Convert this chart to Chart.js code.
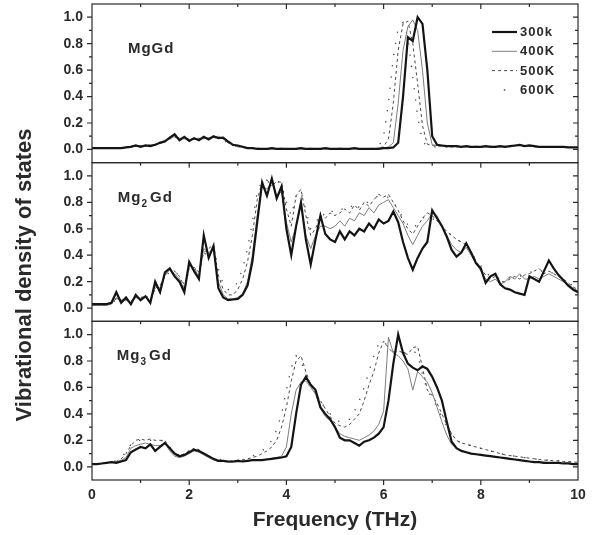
<!DOCTYPE html>
<html>
<head>
  <meta charset="UTF-8">
  <title>Vibrational density of states</title>
  <script src="https://cdn.jsdelivr.net/npm/chart.js"></script>
  <style>
    body, html {
      margin: 0;
      padding: 0;
      background: #fff;
    }

    #chart-container {
      width: 600px;
      height: 535px;
      position: relative;
    }
  </style>
</head>
<body>

  <div id="chart-container">
    <canvas id="dosChart"></canvas>
  </div>

  <script>
    // frequency grid (THz)
    const freq = [
      0.0, 0.1, 0.2, 0.3, 0.4, 0.5, 0.6, 0.7, 0.8, 0.9,
      1.0, 1.1, 1.2, 1.3, 1.4, 1.5, 1.6, 1.7, 1.8, 1.9,
      2.0, 2.1, 2.2, 2.3, 2.4, 2.5, 2.6, 2.7, 2.8, 2.9,
      3.0, 3.1, 3.2, 3.3, 3.4, 3.5, 3.6, 3.7, 3.8, 3.9,
      4.0, 4.1, 4.2, 4.3, 4.4, 4.5, 4.6, 4.7, 4.8, 4.9,
      5.0, 5.1, 5.2, 5.3, 5.4, 5.5, 5.6, 5.7, 5.8, 5.9,
      6.0, 6.1, 6.2, 6.3, 6.4, 6.5, 6.6, 6.7, 6.8, 6.9,
      7.0, 7.1, 7.2, 7.3, 7.4, 7.5, 7.6, 7.7, 7.8, 7.9,
      8.0, 8.1, 8.2, 8.3, 8.4, 8.5, 8.6, 8.7, 8.8, 8.9,
      9.0, 9.1, 9.2, 9.3, 9.4, 9.5, 9.6, 9.7, 9.8, 9.9,
      10.0
    ];

    const temps = ["300k", "400K", "500K", "600K"];

    // MgGd
    const mgGd300 = [
      0.01,0.01,0.01,0.01,0.01,0.01,0.01,0.015,0.02,0.03,
      0.02,0.03,0.025,0.035,0.05,0.06,0.09,0.115,0.07,0.095,
      0.065,0.085,0.07,0.095,0.075,0.1,0.085,0.09,0.06,0.035,
      0.03,0.02,0.01,0.01,0.005,0.005,0.005,0.01,0.005,0.005,
      0.005,0.005,0.005,0.01,0.005,0.005,0.005,0.005,0.01,0.005,
      0.005,0.005,0.005,0.005,0.01,0.005,0.005,0.005,0.005,0.005,
      0.01,0.01,0.015,0.05,0.4,0.85,0.82,1.0,0.95,0.6,
      0.1,0.035,0.03,0.025,0.025,0.025,0.02,0.025,0.02,0.02,
      0.02,0.025,0.02,0.02,0.025,0.02,0.025,0.03,0.035,0.025,
      0.03,0.025,0.02,0.02,0.02,0.02,0.02,0.02,0.015,0.015,
      0.015
    ];
    const mgGd400 = [
      0.01,0.01,0.01,0.01,0.01,0.01,0.01,0.015,0.025,0.025,
      0.03,0.025,0.035,0.03,0.055,0.07,0.08,0.1,0.085,0.08,
      0.075,0.08,0.085,0.08,0.09,0.09,0.1,0.08,0.055,0.035,
      0.025,0.015,0.01,0.01,0.005,0.005,0.005,0.005,0.005,0.01,
      0.005,0.005,0.005,0.005,0.005,0.01,0.005,0.005,0.005,0.005,
      0.005,0.01,0.005,0.005,0.005,0.005,0.005,0.005,0.005,0.01,
      0.01,0.02,0.05,0.35,0.75,0.93,0.98,0.9,0.6,0.2,
      0.035,0.03,0.025,0.025,0.02,0.025,0.02,0.02,0.02,0.025,
      0.02,0.02,0.025,0.02,0.02,0.025,0.02,0.025,0.03,0.03,
      0.025,0.025,0.02,0.02,0.02,0.02,0.02,0.015,0.015,0.015,
      0.015
    ];
    const mgGd500 = [
      0.01,0.01,0.01,0.01,0.01,0.01,0.015,0.015,0.02,0.025,
      0.025,0.03,0.03,0.035,0.05,0.065,0.085,0.095,0.08,0.085,
      0.08,0.075,0.08,0.085,0.085,0.095,0.09,0.08,0.05,0.03,
      0.02,0.015,0.01,0.01,0.005,0.005,0.005,0.005,0.005,0.005,
      0.005,0.005,0.01,0.005,0.005,0.005,0.005,0.005,0.005,0.005,
      0.005,0.005,0.005,0.01,0.005,0.005,0.005,0.005,0.005,0.01,
      0.02,0.08,0.35,0.75,0.95,0.97,0.8,0.5,0.18,0.04,
      0.03,0.025,0.025,0.02,0.02,0.02,0.025,0.02,0.02,0.02,
      0.02,0.02,0.02,0.025,0.02,0.02,0.025,0.03,0.03,0.025,
      0.025,0.02,0.02,0.02,0.02,0.02,0.015,0.015,0.015,0.015,
      0.015
    ];
    const mgGd600 = [
      0.01,0.01,0.01,0.01,0.01,0.015,0.015,0.02,0.02,0.025,
      0.03,0.03,0.035,0.04,0.055,0.065,0.08,0.09,0.085,0.085,
      0.08,0.08,0.085,0.085,0.09,0.09,0.085,0.075,0.045,0.03,
      0.02,0.015,0.01,0.01,0.01,0.005,0.005,0.005,0.005,0.005,
      0.005,0.005,0.005,0.005,0.005,0.005,0.005,0.005,0.005,0.005,
      0.005,0.005,0.005,0.005,0.005,0.005,0.005,0.005,0.01,0.02,
      0.1,0.35,0.7,0.92,0.96,0.85,0.55,0.25,0.06,0.025,
      0.02,0.02,0.02,0.02,0.02,0.02,0.02,0.02,0.02,0.02,
      0.02,0.02,0.02,0.02,0.02,0.02,0.025,0.025,0.025,0.025,
      0.02,0.02,0.02,0.02,0.02,0.015,0.015,0.015,0.015,0.015,
      0.015
    ];

    // Mg2Gd
    const mg2Gd300 = [
      0.03,0.03,0.03,0.03,0.04,0.12,0.04,0.08,0.03,0.1,
      0.06,0.09,0.04,0.2,0.12,0.27,0.3,0.24,0.2,0.12,
      0.35,0.28,0.22,0.55,0.38,0.47,0.15,0.08,0.06,0.065,
      0.07,0.1,0.17,0.35,0.65,0.95,0.85,0.98,0.83,0.92,
      0.6,0.4,0.62,0.8,0.52,0.33,0.52,0.7,0.56,0.52,
      0.5,0.58,0.52,0.58,0.55,0.6,0.58,0.64,0.6,0.67,
      0.64,0.66,0.73,0.65,0.5,0.38,0.29,0.38,0.45,0.5,
      0.74,0.68,0.62,0.54,0.44,0.39,0.42,0.49,0.42,0.34,
      0.3,0.19,0.24,0.26,0.18,0.15,0.14,0.12,0.11,0.1,
      0.24,0.22,0.2,0.28,0.36,0.3,0.25,0.21,0.17,0.14,
      0.12
    ];
    const mg2Gd400 = [
      0.02,0.02,0.02,0.02,0.03,0.08,0.05,0.06,0.04,0.08,
      0.07,0.08,0.05,0.17,0.15,0.25,0.29,0.26,0.22,0.14,
      0.32,0.3,0.24,0.45,0.42,0.44,0.2,0.1,0.07,0.07,
      0.08,0.11,0.2,0.4,0.7,0.92,0.9,0.95,0.85,0.88,
      0.65,0.5,0.62,0.78,0.55,0.45,0.55,0.62,0.62,0.6,
      0.62,0.66,0.62,0.68,0.66,0.72,0.7,0.76,0.72,0.78,
      0.8,0.82,0.76,0.7,0.64,0.55,0.48,0.55,0.62,0.66,
      0.72,0.7,0.62,0.55,0.48,0.44,0.42,0.46,0.4,0.34,
      0.28,0.22,0.2,0.22,0.18,0.2,0.24,0.22,0.26,0.22,
      0.22,0.24,0.22,0.24,0.26,0.24,0.22,0.2,0.18,0.15,
      0.13
    ];
    const mg2Gd500 = [
      0.02,0.02,0.03,0.03,0.04,0.07,0.06,0.07,0.05,0.09,
      0.08,0.09,0.06,0.15,0.17,0.24,0.3,0.28,0.24,0.16,
      0.3,0.31,0.27,0.42,0.45,0.48,0.25,0.14,0.1,0.1,
      0.14,0.22,0.35,0.55,0.82,0.95,0.97,0.92,0.96,0.95,
      0.75,0.62,0.85,0.9,0.7,0.55,0.6,0.7,0.68,0.72,
      0.7,0.72,0.75,0.72,0.78,0.74,0.8,0.77,0.82,0.86,
      0.84,0.86,0.8,0.74,0.66,0.6,0.56,0.62,0.68,0.72,
      0.7,0.66,0.62,0.58,0.55,0.52,0.5,0.48,0.42,0.36,
      0.3,0.25,0.22,0.24,0.2,0.2,0.22,0.24,0.22,0.25,
      0.26,0.28,0.3,0.26,0.28,0.26,0.24,0.22,0.19,0.16,
      0.14
    ];
    const mg2Gd600 = [
      0.02,0.02,0.03,0.03,0.04,0.06,0.06,0.07,0.06,0.08,
      0.08,0.09,0.08,0.14,0.17,0.22,0.28,0.28,0.24,0.18,
      0.28,0.3,0.28,0.4,0.44,0.46,0.3,0.18,0.14,0.14,
      0.2,0.3,0.45,0.65,0.88,0.96,0.96,0.94,0.96,0.94,
      0.8,0.7,0.85,0.88,0.74,0.6,0.64,0.72,0.7,0.74,
      0.72,0.74,0.76,0.75,0.8,0.76,0.8,0.8,0.83,0.85,
      0.84,0.84,0.8,0.75,0.68,0.63,0.6,0.64,0.68,0.7,
      0.68,0.65,0.62,0.58,0.55,0.52,0.5,0.47,0.42,0.37,
      0.32,0.27,0.24,0.24,0.22,0.22,0.23,0.24,0.24,0.26,
      0.27,0.28,0.29,0.27,0.28,0.26,0.24,0.22,0.19,0.17,
      0.15
    ];

    // Mg3Gd
    const mg3Gd300 = [
      0.02,0.02,0.025,0.03,0.035,0.03,0.04,0.05,0.11,0.13,
      0.15,0.14,0.17,0.12,0.15,0.18,0.14,0.1,0.08,0.09,
      0.11,0.13,0.12,0.1,0.08,0.06,0.045,0.045,0.04,0.04,
      0.045,0.04,0.045,0.05,0.05,0.05,0.055,0.06,0.065,0.07,
      0.08,0.15,0.4,0.62,0.68,0.62,0.58,0.45,0.4,0.36,
      0.3,0.22,0.2,0.2,0.18,0.16,0.19,0.2,0.22,0.25,
      0.3,0.5,0.78,1.0,0.86,0.78,0.75,0.73,0.76,0.74,
      0.68,0.6,0.5,0.34,0.19,0.14,0.12,0.11,0.1,0.095,
      0.09,0.085,0.08,0.075,0.07,0.065,0.06,0.055,0.05,0.045,
      0.04,0.035,0.035,0.03,0.03,0.03,0.03,0.025,0.025,0.02,
      0.02
    ];
    const mg3Gd400 = [
      0.02,0.02,0.025,0.03,0.035,0.035,0.05,0.07,0.14,0.16,
      0.17,0.18,0.17,0.16,0.16,0.18,0.12,0.08,0.07,0.08,
      0.1,0.12,0.11,0.09,0.07,0.05,0.04,0.04,0.035,0.035,
      0.04,0.04,0.045,0.05,0.05,0.055,0.06,0.065,0.07,0.08,
      0.15,0.4,0.58,0.64,0.65,0.6,0.55,0.44,0.38,0.35,
      0.3,0.25,0.23,0.22,0.21,0.2,0.22,0.24,0.27,0.32,
      0.42,0.98,0.86,0.84,0.8,0.74,0.58,0.72,0.68,0.64,
      0.56,0.45,0.34,0.24,0.17,0.14,0.12,0.11,0.1,0.095,
      0.09,0.085,0.08,0.075,0.07,0.065,0.06,0.055,0.05,0.045,
      0.04,0.04,0.035,0.035,0.03,0.03,0.03,0.025,0.025,0.025,
      0.02
    ];
    const mg3Gd500 = [
      0.02,0.02,0.025,0.03,0.035,0.04,0.06,0.1,0.16,0.2,
      0.21,0.2,0.21,0.2,0.2,0.2,0.14,0.09,0.08,0.1,
      0.12,0.14,0.13,0.1,0.08,0.06,0.05,0.045,0.04,0.04,
      0.05,0.05,0.06,0.07,0.08,0.1,0.12,0.15,0.2,0.3,
      0.45,0.65,0.8,0.84,0.72,0.62,0.55,0.5,0.44,0.38,
      0.33,0.31,0.3,0.32,0.36,0.4,0.5,0.62,0.72,0.86,
      0.95,0.9,0.86,0.88,0.86,0.85,0.9,0.91,0.75,0.58,
      0.54,0.48,0.4,0.32,0.25,0.2,0.18,0.17,0.16,0.15,
      0.14,0.13,0.12,0.11,0.1,0.09,0.085,0.08,0.075,0.07,
      0.065,0.06,0.055,0.05,0.05,0.045,0.045,0.04,0.04,0.035,
      0.035
    ];
    const mg3Gd600 = [
      0.02,0.02,0.025,0.03,0.04,0.045,0.07,0.11,0.17,0.2,
      0.2,0.21,0.2,0.2,0.2,0.19,0.15,0.1,0.09,0.1,
      0.12,0.13,0.12,0.1,0.08,0.065,0.055,0.05,0.045,0.045,
      0.05,0.055,0.065,0.08,0.1,0.12,0.15,0.2,0.28,0.4,
      0.58,0.75,0.84,0.8,0.7,0.62,0.55,0.5,0.44,0.4,
      0.36,0.34,0.34,0.36,0.42,0.5,0.6,0.72,0.84,0.93,
      0.95,0.9,0.87,0.87,0.86,0.87,0.88,0.85,0.7,0.58,
      0.52,0.45,0.38,0.3,0.24,0.2,0.18,0.17,0.16,0.15,
      0.14,0.13,0.12,0.11,0.1,0.09,0.085,0.08,0.075,0.07,
      0.065,0.06,0.055,0.05,0.05,0.045,0.045,0.04,0.04,0.035,
      0.035
    ];

    const FONT = "'Liberation Sans', Arial, sans-serif";
    const INK = '#2a2a2a';

    // one line style per temperature
    const lineStyles = [
      { color: '#141414', width: 2.2, dash: [] },
      { color: '#7d7d7d', width: 1, dash: [] },
      { color: '#4a4a4a', width: 1, dash: [3, 3] },
      { color: '#4a4a4a', width: 1.3, dash: [1.3, 10], dot: true }
    ];

    // panels, top to bottom
    const panels = [
      { axis: 'yTop', parts: [['MgGd', 0]], at: [0.74, 0.73], series: [mgGd300, mgGd400, mgGd500, mgGd600] },
      { axis: 'yMid', parts: [['Mg', 0], ['2', 1], ['Gd', 0]], at: [0.53, 0.8], series: [mg2Gd300, mg2Gd400, mg2Gd500, mg2Gd600] },
      { axis: 'yBot', parts: [['Mg', 0], ['3', 1], ['Gd', 0]], at: [0.51, 0.81], series: [mg3Gd300, mg3Gd400, mg3Gd500, mg3Gd600] }
    ];

    const datasets = [];
    panels.forEach(p => {
      p.series.forEach((vals, t) => {
        const st = lineStyles[t];
        datasets.push({
          label: temps[t],
          data: vals.map((v, i) => ({ x: freq[i], y: v })),
          yAxisID: p.axis,
          borderColor: st.color,
          borderWidth: st.width,
          borderDash: st.dash,
          pointRadius: 0,
          tension: 0,
          fill: false,
          order: t
        });
      });
    });

    function yAxis() {
      return {
        type: 'linear',
        position: 'left',
        stack: 'dos',
        stackWeight: 1,
        min: -0.1,
        max: 1.1,
        grid: { display: false, drawOnChartArea: false, drawTicks: false },
        border: { display: false },
        ticks: {
          stepSize: 0.1,
          autoSkip: false,
          padding: 9,
          color: INK,
          font: { family: FONT, weight: 'bold', size: 14 },
          callback: v => {
            const k = Math.round(v * 10);
            return (k >= 0 && k <= 10 && k % 2 === 0) ? (k / 10).toFixed(1) : '';
          }
        },
        afterFit: s => {
          s.width = 92;
          // panels sit flush against each other, no room kept for edge labels
          s.paddingTop = 0;
          s.paddingBottom = 0;
        }
      };
    }

    function drawFormula(ctx, parts, x, y) {
      parts.forEach(([txt, sub]) => {
        ctx.font = sub ? `bold 10px ${FONT}` : `bold 15px ${FONT}`;
        ctx.fillText(txt, x, sub ? y + 5 : y);
        x += ctx.measureText(txt).width + (sub ? 2 : 0);
      });
    }

    // frames, ticks, panel names, legend and the shared y title
    const panelDecor = {
      id: 'panelDecor',
      afterDatasetsDraw(chart) {
        const { ctx, chartArea: area, scales } = chart;
        const xs = scales.x;
        ctx.save();
        ctx.strokeStyle = INK;
        ctx.fillStyle = INK;
        ctx.lineWidth = 1.2;
        ctx.setLineDash([]);

        panels.forEach((p, idx) => {
          const ys = scales[p.axis];
          ctx.strokeRect(area.left, ys.top, area.right - area.left, ys.bottom - ys.top);

          ctx.beginPath();
          for (let f = 1; f < 10; f++) {
            const px = xs.getPixelForValue(f);
            const len = f % 2 === 0 ? 5 : 3;
            ctx.moveTo(px, ys.top);
            ctx.lineTo(px, ys.top + len);
            if (idx === panels.length - 1) {
              ctx.moveTo(px, ys.bottom);
              ctx.lineTo(px, ys.bottom + len);
            }
          }
          for (let k = 0; k <= 10; k++) {
            const py = ys.getPixelForValue(k / 10);
            const len = k % 2 === 0 ? 5 : 3;
            ctx.moveTo(area.left, py);
            ctx.lineTo(area.left - len, py);
            ctx.moveTo(area.right, py);
            ctx.lineTo(area.right - len, py);
          }
          ctx.stroke();

          ctx.letterSpacing = '1px';
          ctx.textBaseline = 'alphabetic';
          ctx.textAlign = 'left';
          drawFormula(ctx, p.parts, xs.getPixelForValue(p.at[0]), ys.getPixelForValue(p.at[1]));
          ctx.letterSpacing = '0px';
        });

        // legend inside the top panel
        const top = scales[panels[0].axis];
        ctx.font = `bold 13px ${FONT}`;
        ctx.textBaseline = 'middle';
        ctx.letterSpacing = '1px';
        temps.forEach((t, i) => {
          const st = lineStyles[i];
          const ly = top.top + 28 + i * 19.3;
          const x0 = area.right - 86, x1 = area.right - 61;
          ctx.strokeStyle = st.color;
          ctx.lineWidth = st.width;
          if (st.dot) {
            ctx.fillStyle = st.color;
            ctx.fillRect((x0 + x1) / 2 - 0.7, ly - 0.7, 1.5, 1.5);
          } else {
            ctx.setLineDash(st.dash);
            ctx.beginPath();
            ctx.moveTo(x0, ly);
            ctx.lineTo(x1, ly);
            ctx.stroke();
            ctx.setLineDash([]);
          }
          ctx.fillStyle = INK;
          ctx.fillText(t, area.right - 58, ly + 0.5);
        });
        ctx.letterSpacing = '0px';

        // y title spanning all panels
        ctx.translate(25, 275);
        ctx.rotate(-Math.PI / 2);
        ctx.font = `bold 22px ${FONT}`;
        ctx.textAlign = 'center';
        ctx.textBaseline = 'middle';
        ctx.fillStyle = INK;
        ctx.fillText('Vibrational density of states', 0, 0);
        ctx.restore();
      }
    };

    const ctx = document.getElementById('dosChart').getContext('2d');
    const chart = new Chart(ctx, {
      type: 'line',
      data: { datasets },
      options: {
        responsive: true,
        maintainAspectRatio: false,
        animation: false,
        layout: { padding: { top: 4, right: 22, left: 0, bottom: 0 } },
        plugins: {
          legend: { display: false },
          tooltip: { enabled: false }
        },
        scales: {
          x: {
            type: 'linear',
            position: 'bottom',
            min: 0,
            max: 10,
            grid: { display: false, drawOnChartArea: false, drawTicks: false },
            border: { display: false },
            ticks: {
              stepSize: 2,
              padding: 7,
              color: INK,
              font: { family: FONT, weight: 'bold', size: 14 },
              maxRotation: 0
            },
            title: {
              display: true,
              text: 'Frequency (THz)',
              color: INK,
              font: { family: FONT, weight: 'bold', size: 21 },
              padding: { top: 0, bottom: 2 }
            },
            afterFit: s => { s.height = 55; }
          },
          yBot: yAxis(),
          yMid: yAxis(),
          yTop: yAxis()
        }
      },
      plugins: [panelDecor]
    });
  </script>
</body>
</html>
